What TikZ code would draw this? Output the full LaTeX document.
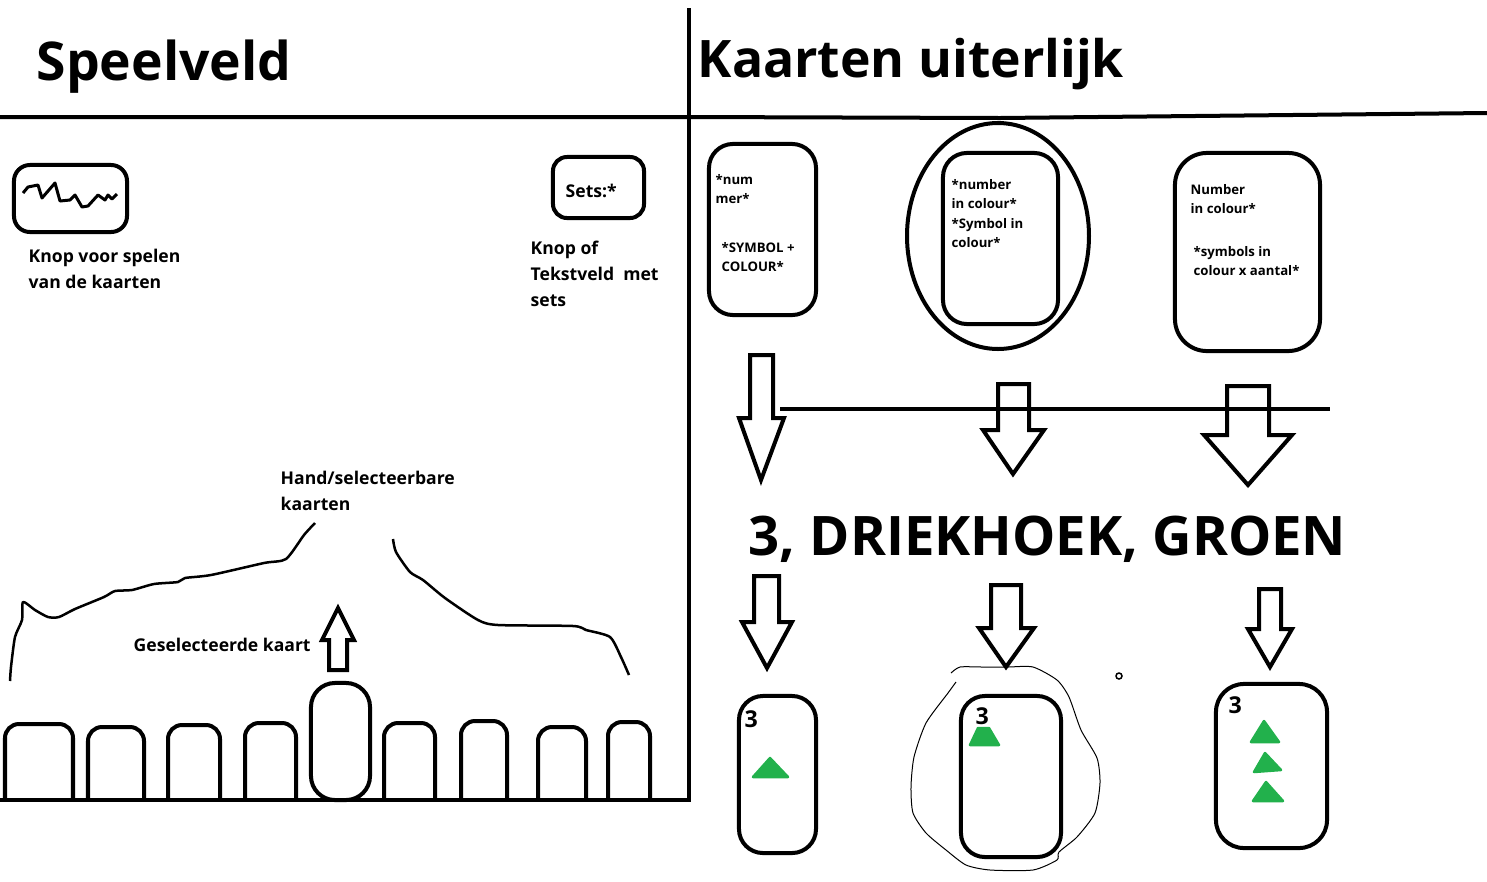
\documentclass[tikz,border=0pt]{standalone}
\usepackage{fontspec}
\setmainfont{Open Sans}
\usetikzlibrary{positioning}
\newcommand{\titelfont}{\fontsize{15.2pt}{20pt}\bfseries\selectfont}
\newcommand{\kopfont}{\fontsize{14.7pt}{20pt}\bfseries\selectfont}
\newcommand{\groenfont}{\fontsize{15.5pt}{20pt}\bfseries\selectfont}
\newcommand{\labelfont}{\fontsize{5pt}{7.5pt}\bfseries\selectfont}
\newcommand{\kaartfont}{\fontsize{3.75pt}{5.45pt}\bfseries\selectfont}
\newcommand{\driefont}{\fontsize{6.6pt}{8pt}\bfseries\selectfont}
\definecolor{kaartgroen}{RGB}{34,177,76}

\begin{document}
\begin{tikzpicture}[
		x=0.01cm,y=-0.01cm,
		lijn/.style={line width=0.04cm,black},
		dun/.style={line width=0.025cm,black,line join=round},
		kaart/.style={draw,lijn,rounded corners=0.24cm,inner sep=0},
		tekst/.style={inner sep=0,anchor=north west,align=left},
		pijl/.style={draw,lijn,line join=miter,fill=none},
		drie/.style={fill=kaartgroen,draw=kaartgroen,line width=0.025cm,line join=round}
	]
	\useasboundingbox (0,0) rectangle (1487,881);
	% lijnen
	\draw[lijn] (0,117) -- (689,117) -- (1000,118) -- (1487,113);
	\draw[lijn] (689,8) -- (689,800) -- (0,800);
	\draw[lijn] (780,409) -- (1330,409);
	% titels
	\node[tekst,font=\titelfont] (speelveld) at (36,39) {Speelveld};
	\node[tekst,font=\kopfont] (uiterlijk) at (697,38) {Kaarten uiterlijk};
	\node[tekst,font=\groenfont] (groen) at (748,515) {3, DRIEKHOEK, GROEN};
	% speelveld
	\node[kaart,rounded corners=0.16cm,minimum width=1.13cm,minimum height=0.67cm] (knop) at (70.5,198.5) {};
	\draw[line width=0.03cm,line join=round] (23,193) -- (28,187) -- (38,185) -- (42,198) -- (55,183) -- (60,201) -- (70,200) -- (75,195) -- (82,207) -- (88,206) -- (98,195) -- (105,200) -- (108,195) -- (112,199) -- (117,194);
	\node[tekst,font=\labelfont] (knoplabel) at (28,248) {Knop voor spelen\\van de kaarten};
	\node[kaart,rounded corners=0.14cm,minimum width=0.91cm,minimum height=0.61cm] (sets) at (598.5,187.5) {};
	\node[tekst,font=\labelfont] (setstekst) at (565,183) {Sets:*};
	\node[tekst,font=\labelfont] (setslabel) at (530,240) {Knop of\\Tekstveld~ met\\sets};
	\node[tekst,font=\labelfont] (hand) at (280,470) {Hand/selecteerbare\\kaarten};
	\node[tekst,font=\labelfont] (geselecteerd) at (133,637) {Geselecteerde kaart};
	\draw[dun] plot[smooth,tension=0.4] coordinates {(10,681) (11,667) (15,637) (22,620) (23,602) (35,610) (48,617) (59,617) (75,609) (104,597) (115,591) (132,590) (154,584) (178,582) (185,578) (211,575) (264,563) (286,559) (304,535) (315,523)};
	\draw[dun] plot[smooth,tension=0.4] coordinates {(393,539) (396,552) (410,572) (423,580) (445,598) (478,620) (498,625) (573,626) (586,630) (610,637) (621,657) (629,675)};
	% hand
	\foreach \l/\r/\t in {5/73/724,88/144/727,168/220/725,245/296/723,384/435/723,461/507/721,538/586/727,608/650/722}
		\draw[lijn,rounded corners=0.14cm] (\l,800) -- (\l,\t) -- (\r,\t) -- (\r,800);
	\node[kaart,minimum width=0.59cm,minimum height=1.17cm] (gekozen) at (340.5,741.5) {};
	\draw[pijl] (329,670) -- (329,640) -- (322,640) -- (338,608) -- (354,640) -- (347,640) -- (347,670) -- cycle;
	% kaarten boven
	\node[kaart,minimum width=1.07cm,minimum height=1.71cm] (numkaart) at (762.5,229.5) {};
	\node[kaart,minimum width=1.15cm,minimum height=1.71cm] (symkaart) at (1000.5,238.5) {};
	\node[kaart,minimum width=1.45cm,minimum height=1.98cm,rounded corners=0.32cm] (aantalkaart) at (1247.5,252) {};
	\draw[lijn] (998,236) ellipse [x radius=91,y radius=113];
	\node[tekst,font=\kaartfont] (numtekst) at (715,174) {*num\\mer*};
	\node[tekst,font=\kaartfont] (symtekst) at (721,242) {*SYMBOL +\\COLOUR*};
	\node[tekst,font=\kaartfont] (colourtekst) at (951,179) {*number\\in colour*\\*Symbol in\\colour*};
	\node[tekst,font=\kaartfont] (nrtekst) at (1190,184) {Number\\in colour*};
	\node[tekst,font=\kaartfont] (aantaltekst) at (1193,246) {*symbols in\\colour x aantal*};
	% pijlen
	\foreach \a/\b/\c/\d/\e/\f/\g/\h in {750/773/355/418/739/784/761/480,998/1029/384/430/983/1044/1013/474,1227/1269/386/435/1204/1292/1248/485,754/779/576/622/742/792/767/668,991/1021/585/628/979/1034/1006/667,1259/1281/589/629/1248/1292/1270/667}
		\draw[pijl] (\a,\c) -- (\a,\d) -- (\e,\d) -- (\g,\h) -- (\f,\d) -- (\b,\d) -- (\b,\c) -- cycle;
	% kaarten onder
	\node[kaart,minimum width=0.77cm,minimum height=1.57cm] (een) at (777.5,774.5) {};
	\node[kaart,minimum width=1.00cm,minimum height=1.61cm] (twee) at (1011,776.5) {};
	\node[kaart,minimum width=1.11cm,minimum height=1.64cm,rounded corners=0.28cm] (drie) at (1271.5,766) {};
	\node[tekst,font=\driefont] (eendrie) at (744,710) {3};
	\node[tekst,font=\driefont] (tweedrie) at (975,707) {3};
	\node[tekst,font=\driefont] (driedrie) at (1228,696) {3};
	\filldraw[drie] (770,758) -- (788,777) -- (753,777) -- cycle;
	\filldraw[drie] (978,728) -- (989,728) -- (999,745) -- (970,745) -- cycle;
	\filldraw[drie] (1264,721) -- (1279,742) -- (1251,742) -- cycle;
	\filldraw[drie] (1265,753) -- (1281,770) -- (1254,772) -- cycle;
	\filldraw[drie] (1266,782) -- (1283,801) -- (1253,801) -- cycle;
	% omlijning
	\draw[line width=0.01cm,line join=round] plot[smooth,tension=0.4] coordinates {(951,673) (960,667) (982,667) (1008,667) (1033,667) (1057,680) (1069,697) (1081,730) (1097,758) (1100,783) (1095,813) (1077,837) (1059,852) (1057,860) (1033,870) (990,870) (966,865) (946,850) (926,833) (913,813) (911,787) (914,757) (926,723) (948,693) (956,682)};
	\draw[line width=0.015cm] (1119,676) circle [radius=3];
\end{tikzpicture}
\end{document}
